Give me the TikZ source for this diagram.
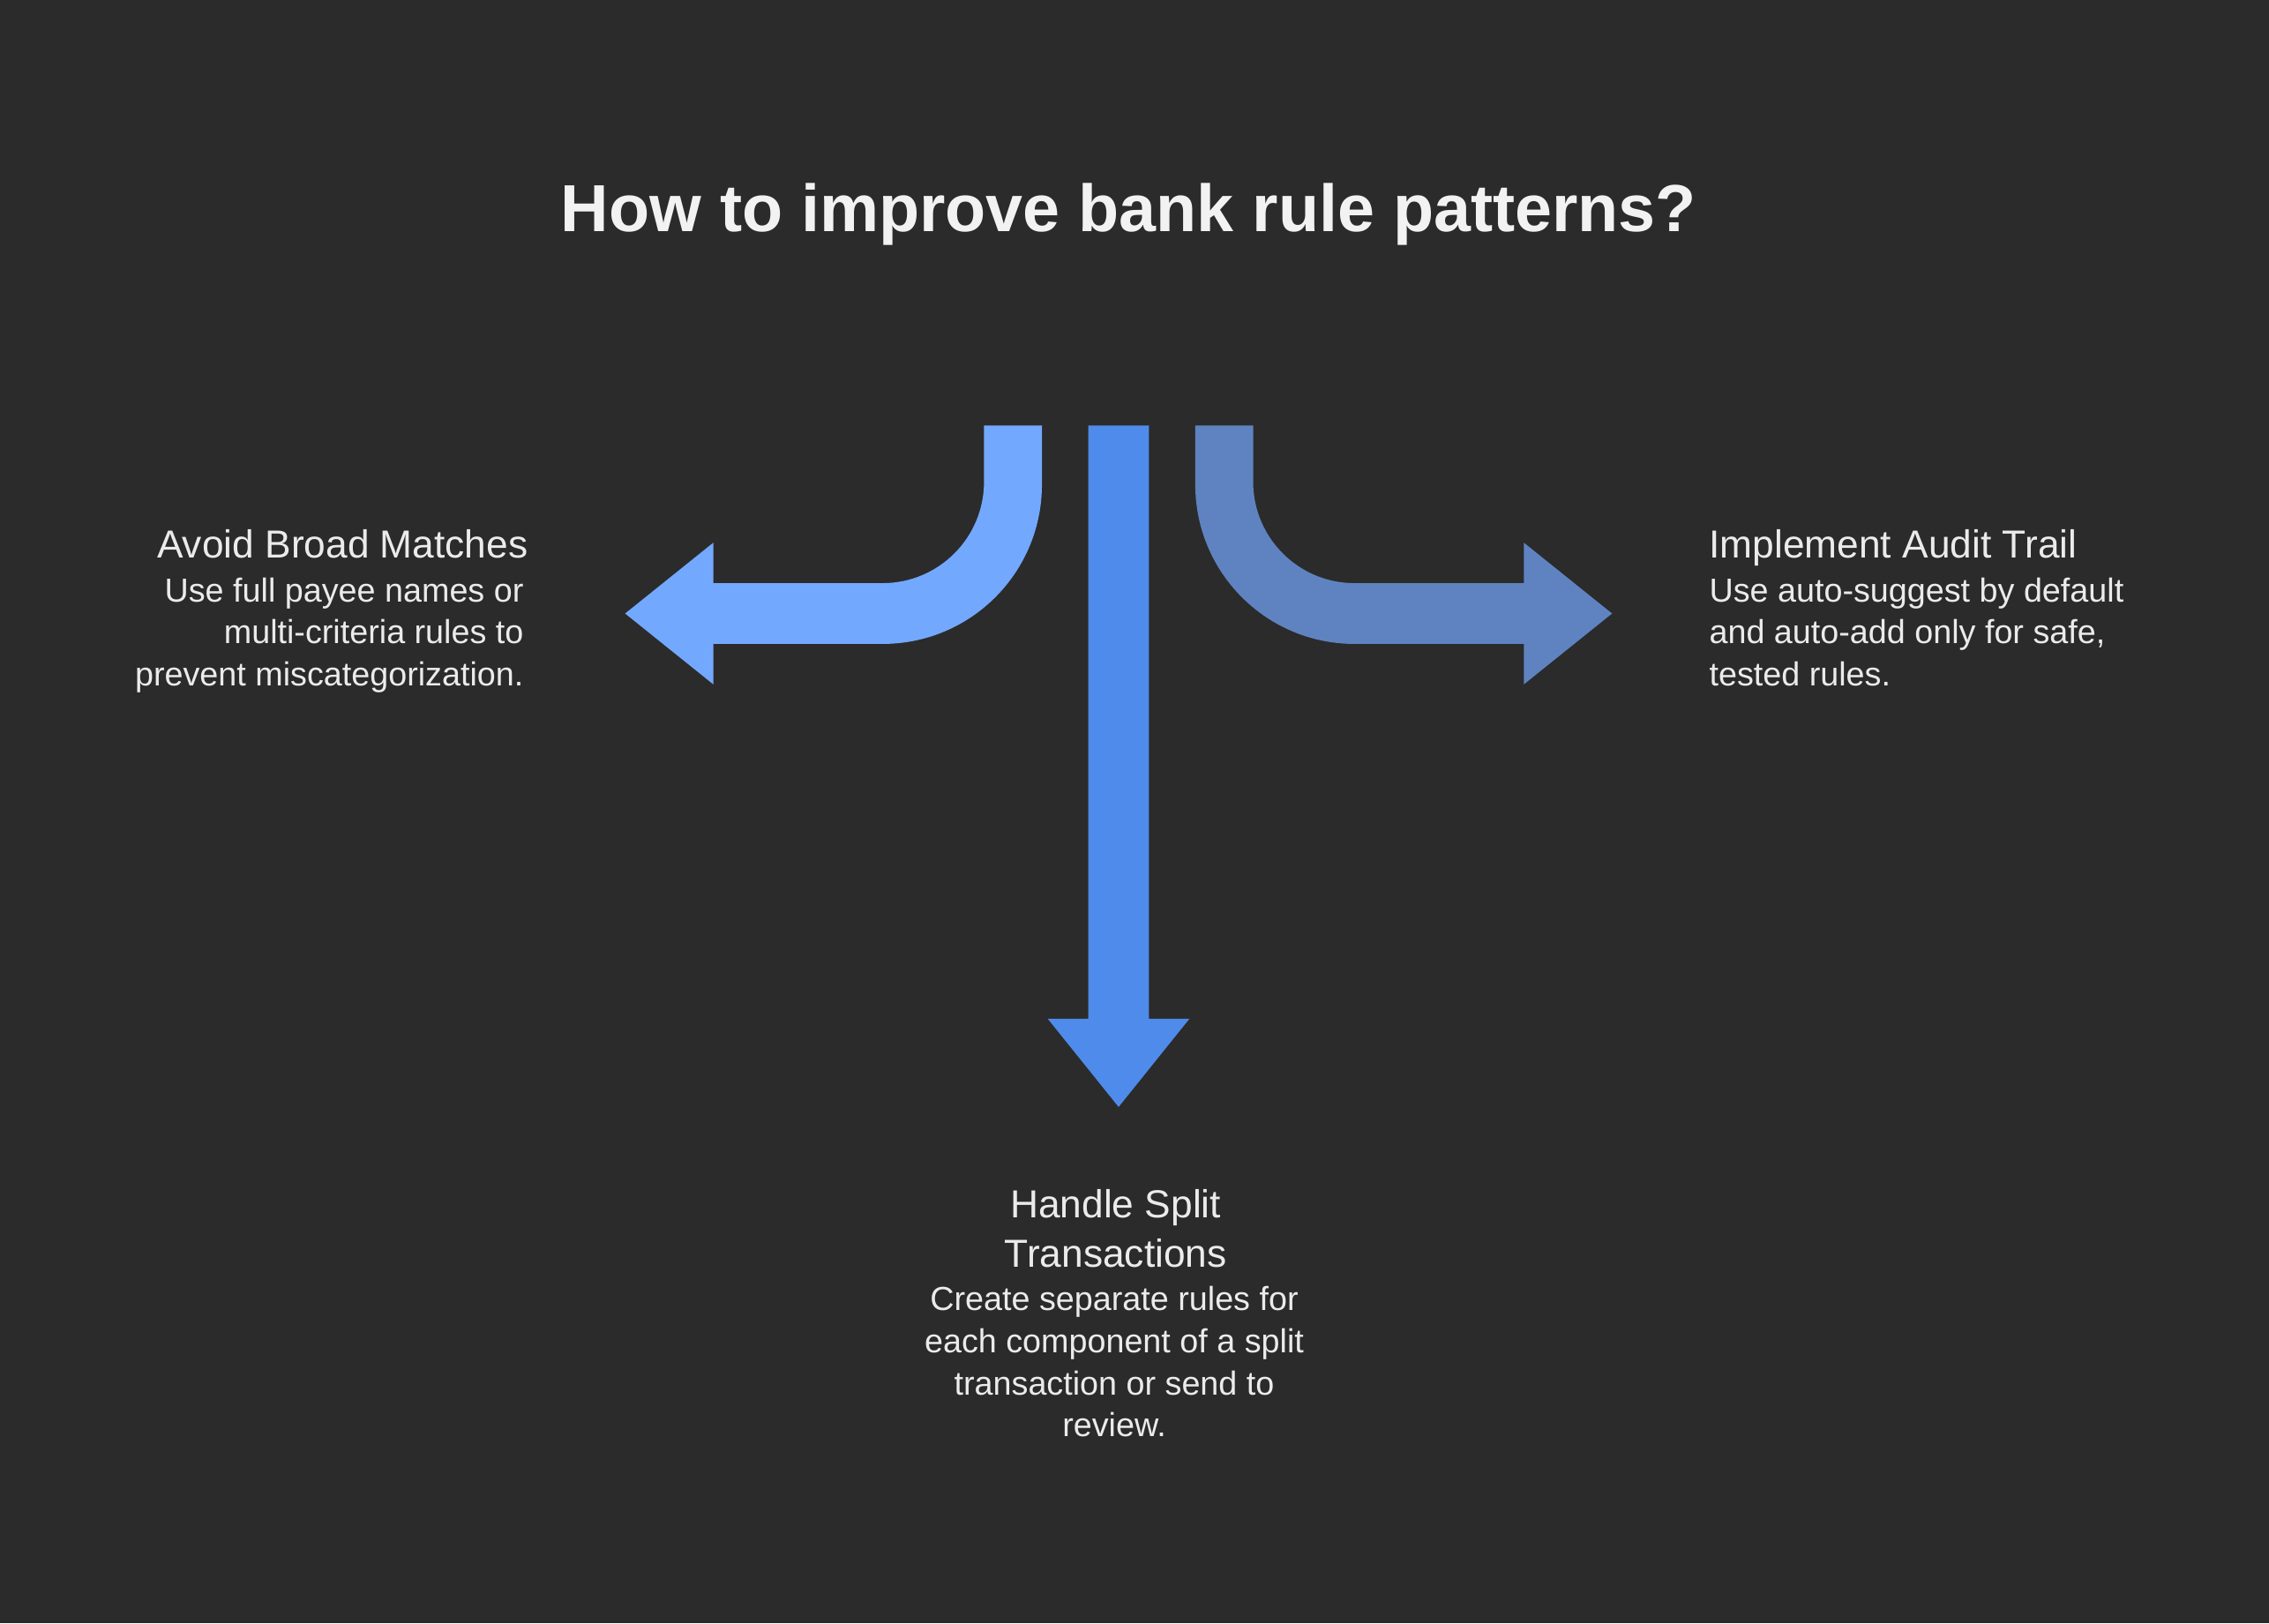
\documentclass[tikz,border=0pt]{standalone}
\usepackage{fontspec}
\setmainfont{Liberation Sans}
\begin{document}
\begin{tikzpicture}[x=1pt,y=-1pt,
  txt/.style={text=white!92!black,inner sep=0pt,font=\fontsize{23}{29}\selectfont},
  hd/.style={text=white!92!black,inner sep=0pt,font=\fontsize{27}{34}\selectfont}]
\definecolor{bg}{HTML}{2B2B2B}
\definecolor{cL}{HTML}{73A8FF}
\definecolor{cM}{HTML}{4F8BEB}
\definecolor{cR}{HTML}{5F83C0}
\fill[bg] (0,0) rectangle (1568,1122);
\useasboundingbox (0,0) rectangle (1568,1122);
\node[text=white!95!black,font=\bfseries\fontsize{46}{50}\selectfont,inner sep=0pt] (title) at (780,148) {How to improve bank rule patterns?};
% center arrow
\fill[cM] (752,294) -- (794,294) -- (794,704) -- (822,704) -- (773,765) -- (724,704) -- (752,704) -- cycle;
% left arrow
\fill[cL] (680,294) -- (720,294) -- (720,335) arc[start angle=0,end angle=90,radius=110] -- (493,445) -- (493,473) -- (432,424) -- (493,375) -- (493,403) -- (610,403) arc[start angle=90,end angle=0,radius=70] -- cycle;
% right arrow
\fill[cR] (866,294) -- (826,294) -- (826,335) arc[start angle=180,end angle=90,radius=110] -- (1053,445) -- (1053,473) -- (1114,424) -- (1053,375) -- (1053,403) -- (936,403) arc[start angle=90,end angle=180,radius=70] -- cycle;
% texts
\node[hd,anchor=north east] (lh) at (365,366) {Avoid Broad Matches};
\node[txt,anchor=north east,align=right] (lb) at (362,399) {Use full payee names or\\multi-criteria rules to\\prevent miscategorization.};
\node[hd,anchor=north west] (rh) at (1181,366) {Implement Audit Trail};
\node[txt,anchor=north west,align=left] (rb) at (1181,399) {Use auto-suggest by default\\and auto-add only for safe,\\tested rules.};
\node[hd,anchor=north,align=center] (bh) at (771,822) {Handle Split\\Transactions};
\node[txt,anchor=north,align=center] (bb) at (770,889) {Create separate rules for\\each component of a split\\transaction or send to\\review.};
\end{tikzpicture}
\end{document}
